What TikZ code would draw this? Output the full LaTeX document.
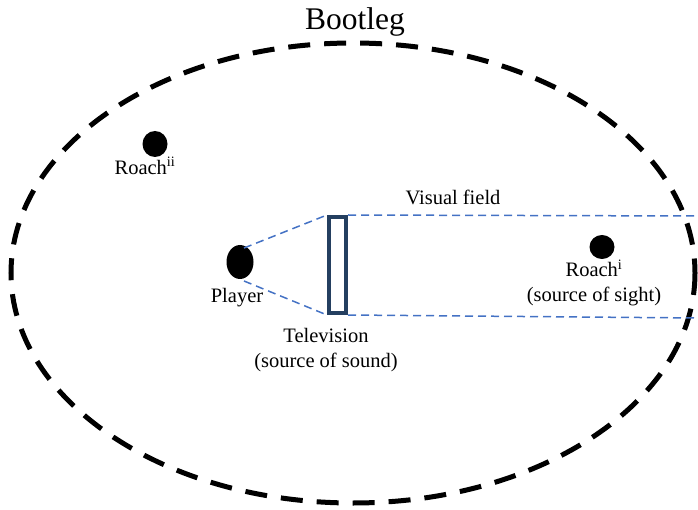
\documentclass[tikz,border=0pt]{standalone}
\usepackage{fontspec}
\setmainfont{Liberation Serif}
\usetikzlibrary{shapes.geometric}
\definecolor{tvnavy}{RGB}{36,63,96}
\definecolor{fieldblue}{RGB}{68,114,196}
\tikzset{
  lbl/.style={inner sep=0pt, font=\fontsize{20.5}{25}\selectfont, align=center},
  dot/.style={ellipse, fill=black, inner sep=0pt},
  sight/.style={draw=fieldblue, line width=1.5pt, dash pattern=on 8pt off 5pt},
  room/.style={draw=black, line width=5pt, dash pattern=on 22pt off 14pt}
}
\begin{document}
\begin{tikzpicture}[x=1pt,y=-1pt]
\useasboundingbox (0,0) rectangle (698,510);
% room
\draw[room] (353,273) ellipse [x radius=342, y radius=230];
\node[lbl, font=\fontsize{31.5}{36}\selectfont] (title) at (355,22) {Bootleg};
% dots
\node[dot, minimum width=27pt, minimum height=34pt] (player) at (240,262) {};
\node[dot, minimum width=25pt, minimum height=24pt] (roachi) at (602,247) {};
\node[dot, minimum width=25pt, minimum height=26pt] (roachii) at (155,144) {};
% television
\node[draw=tvnavy, line width=4pt, minimum width=17pt, minimum height=96pt, inner sep=0pt] (tv) at (337.5,265) {};
% connector points
\coordinate (pu) at (244,248);
\coordinate (pl) at (244,281);
\coordinate (fu) at (698,216);
\coordinate (fl) at (698,318);
\draw[sight] (pu) -- (tv.north west);
\draw[sight] (pl) -- (tv.south west);
\draw[sight] (tv.north east) -- (fu);
\draw[sight] (tv.south east) -- (fl);
% labels
\node[lbl] (lplayer) at (237,298) {Player};
\node[lbl] (ltv) at (326,350) {Television\\(source of sound)};
\node[lbl] (lroachi) at (594,283) {Roach\textsuperscript{i}\\(source of sight)};
\node[lbl] (lroachii) at (145,166) {Roach\textsuperscript{ii}};
\node[lbl] (lfield) at (453,197) {Visual field};
\end{tikzpicture}
\end{document}
